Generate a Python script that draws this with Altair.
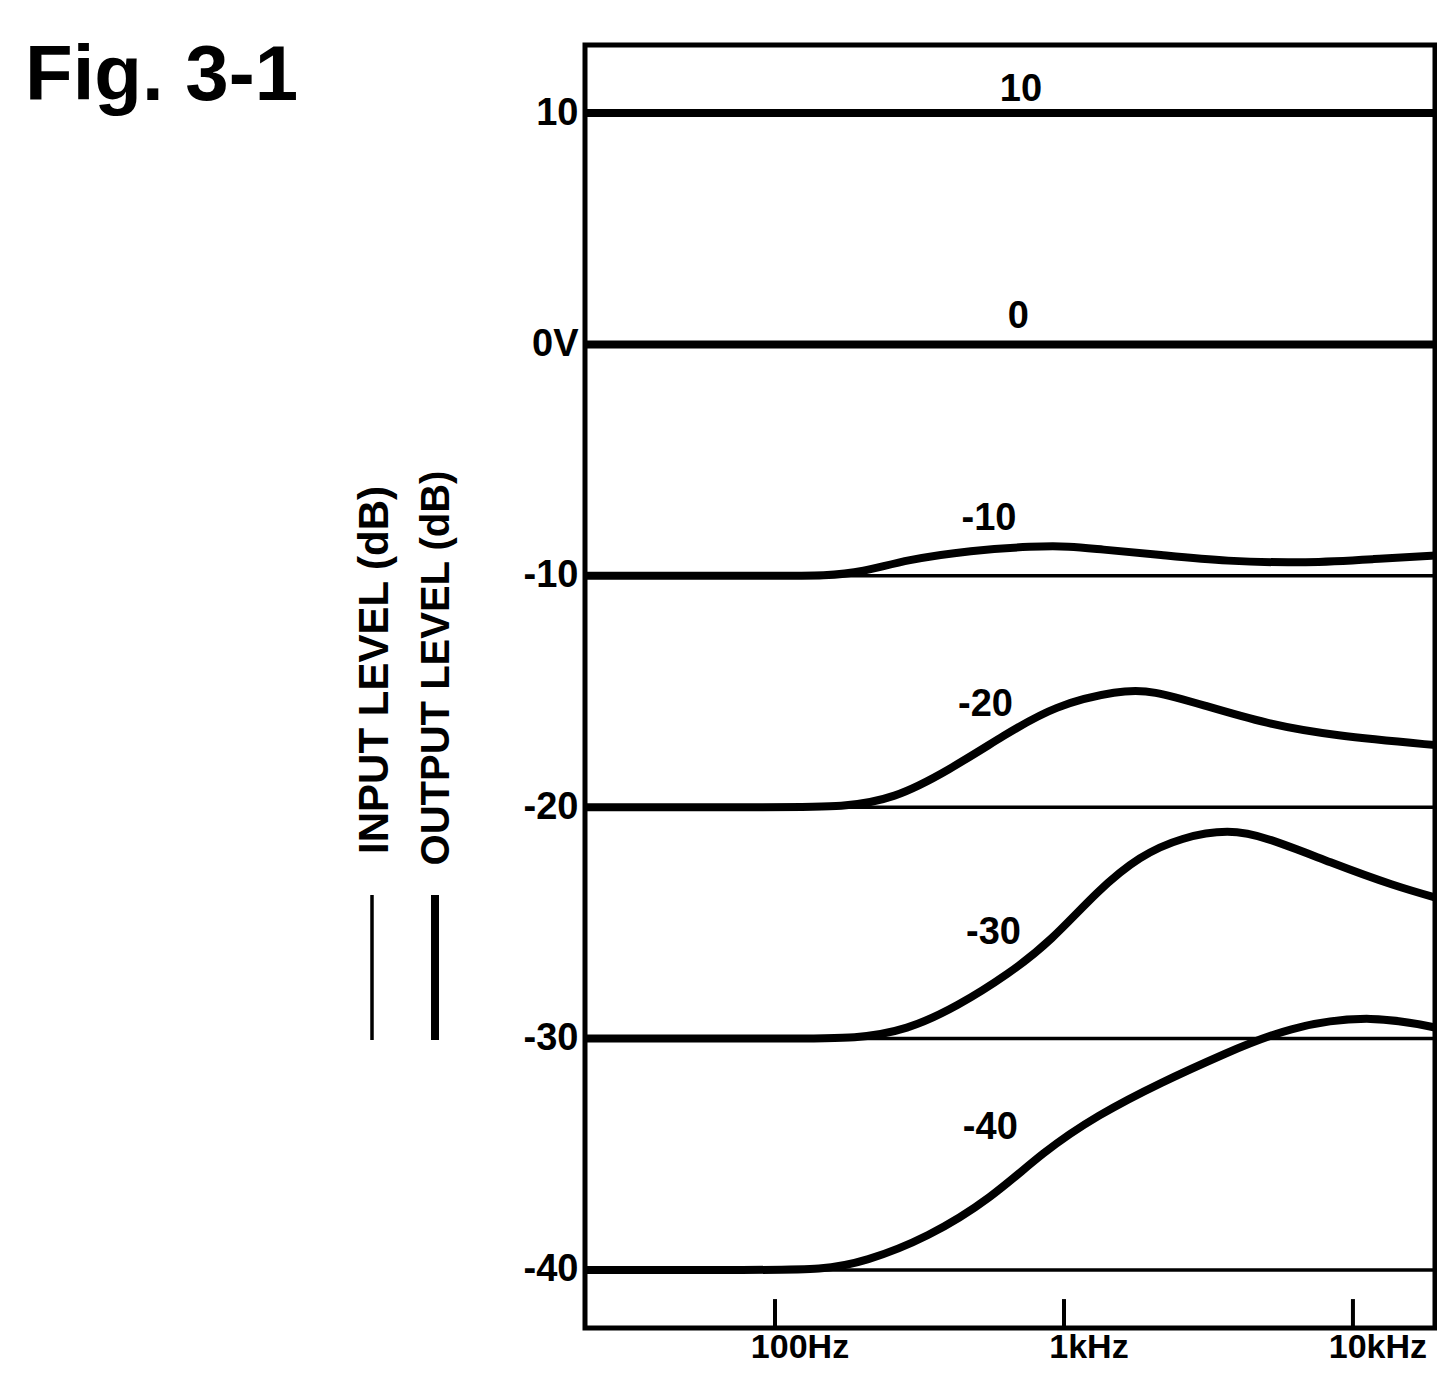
import altair as alt
import pandas as pd

# ---------------- data ----------------
F_MIN, F_MAX = 22, 19230
DB_MIN, DB_MAX = -42.51, 12.94

input_levels = [10, 0, -10, -20, -30, -40]
input_end_freq = 20500

out_p10_freq = [22, 20500]
out_p10_db = [10, 10]

out_0_freq = [22, 20500]
out_0_db = [0, 0]

out_m10_freq = [22, 100, 150, 200, 286, 476, 787, 1050, 1309, 2163, 3603, 7037, 11720, 20500]
out_m10_db = [-10, -10, -10, -9.85, -9.3, -8.9, -8.72, -8.72, -8.85, -9.1, -9.38, -9.45, -9.28, -9.1]

out_m20_freq = [22, 110, 170, 258, 400, 619, 929, 1549, 2029, 3048, 5035, 8378, 20500]
out_m20_db = [-20, -20, -20, -19.65, -18.4, -16.9, -15.6, -14.95, -14.95, -15.6, -16.4, -16.9, -17.35]

out_m30_freq = [22, 120, 190, 286, 429, 645, 900, 1309, 1829, 2558, 3718, 5035, 8378, 13840, 20500]
out_m30_db = [-30, -30, -30, -29.64, -28.6, -27.2, -25.8, -23.6, -22.1, -21.3, -20.95, -21.3, -22.4, -23.4, -24.0]

out_m40_freq = [22, 90, 145, 205, 338, 562, 845, 1309, 2163, 3603, 5953, 11720, 20500]
out_m40_db = [-40, -40, -40, -39.65, -38.6, -36.9, -34.9, -33.3, -31.9, -30.65, -29.5, -28.95, -29.6]

curve_labels = ["10", "0", "-10", "-20", "-30", "-40"]
curve_label_freq = [710, 695, 550, 535, 570, 556]
curve_label_db = [10.99, 1.17, -7.54, -15.6, -25.46, -33.86]

tick_freqs = [100, 1000, 10000]
tick_labels = ["100Hz", "1kHz", "10kHz"]
y_tick_values = [10, 0, -10, -20, -30, -40]

# ---------------- tables ----------------
inp_rows = []
for lv in input_levels:
    inp_rows.append({"series": str(lv), "freq": F_MIN, "db": lv})
    inp_rows.append({"series": str(lv), "freq": input_end_freq, "db": lv})
inp_df = pd.DataFrame(inp_rows)

out_rows = []
for name, fs, ds in [
    ("10", out_p10_freq, out_p10_db),
    ("0", out_0_freq, out_0_db),
    ("-10", out_m10_freq, out_m10_db),
    ("-20", out_m20_freq, out_m20_db),
    ("-30", out_m30_freq, out_m30_db),
    ("-40", out_m40_freq, out_m40_db),
]:
    for f, d in zip(fs, ds):
        out_rows.append({"series": name, "freq": f, "db": d})
out_df = pd.DataFrame(out_rows)

lab_df = pd.DataFrame({"label": curve_labels, "freq": curve_label_freq, "db": curve_label_db})
tick_df = pd.DataFrame({"freq": tick_freqs, "label": tick_labels,
                        "y0": [DB_MIN] * 3, "y1": [DB_MIN + 1.25] * 3})

xscale = alt.Scale(type="log", domain=[F_MIN, F_MAX], nice=False)
yscale = alt.Scale(domain=[DB_MIN, DB_MAX], nice=False, zero=False)

x_enc = alt.X(
    "freq:Q", scale=xscale, title=None,
    axis=alt.Axis(values=tick_freqs, labels=False, ticks=False, domain=False, grid=False),
)
y_enc = alt.Y(
    "db:Q", scale=yscale, title=None,
    axis=alt.Axis(values=y_tick_values,
                  labelExpr="datum.value == 0 ? '0V' : toString(datum.value)",
                  ticks=False, domain=False, grid=False, labelFontSize=38,
                  labelFont="Liberation Sans", labelFontWeight="bold",
                  labelColor="black", labelPadding=7),
)

inp = alt.Chart(inp_df).mark_line(color="black", strokeWidth=3.5, clip=True).encode(
    x=x_enc, y=y_enc, detail="series:N"
)

out = alt.Chart(out_df).mark_line(
    color="black", strokeWidth=8, interpolate="basis", clip=True
).encode(
    x=alt.X("freq:Q", scale=xscale), y=alt.Y("db:Q", scale=yscale), detail="series:N"
)

labels = alt.Chart(lab_df).mark_text(
    font="Liberation Sans", fontWeight="bold", fontSize=38, color="black",
    align="center", baseline="middle"
).encode(x=alt.X("freq:Q", scale=xscale), y=alt.Y("db:Q", scale=yscale), text="label:N")

ticks = alt.Chart(tick_df).mark_rule(color="black", strokeWidth=4).encode(
    x=alt.X("freq:Q", scale=xscale), y=alt.Y("y0:Q", scale=yscale), y2="y1:Q"
)

xlabels = alt.Chart(tick_df).mark_text(
    font="Liberation Sans", fontWeight="bold", fontSize=34, color="black",
    align="center", baseline="top", dx=25
).encode(x=alt.X("freq:Q", scale=xscale), y=alt.value(1286), text="label:N")

one = pd.DataFrame({"k": [0]})

fig_title = alt.Chart(one).mark_text(
    font="Liberation Sans", fontWeight="bold", fontSize=78, color="black",
    align="left", baseline="alphabetic"
).encode(x=alt.value(-560), y=alt.value(55), text=alt.value("Fig. 3-1"))

leg_in_text = alt.Chart(one).mark_text(
    font="Liberation Sans", fontWeight="bold", fontSize=42, color="black",
    align="center", baseline="middle", angle=270
).encode(x=alt.value(-210), y=alt.value(625), text=alt.value("INPUT LEVEL (dB)"))

leg_out_text = alt.Chart(one).mark_text(
    font="Liberation Sans", fontWeight="bold", fontSize=40, color="black",
    align="center", baseline="middle", angle=270
).encode(x=alt.value(-148), y=alt.value(623), text=alt.value("OUTPUT LEVEL (dB)"))

leg_in_line = alt.Chart(one).mark_rule(color="black", strokeWidth=3.5).encode(
    x=alt.value(-213), y=alt.value(850), y2=alt.value(995)
)
leg_out_line = alt.Chart(one).mark_rule(color="black", strokeWidth=8).encode(
    x=alt.value(-150), y=alt.value(850), y2=alt.value(995)
)

chart = alt.layer(
    inp, out, labels, ticks, xlabels, fig_title, leg_in_text, leg_out_text,
    leg_in_line, leg_out_line
).properties(
    width=850, height=1283,
    autosize=alt.AutoSizeParams(type="none"),
    padding={"left": 577, "top": 37, "right": 2, "bottom": 40},
    background="white",
).configure_view(
    stroke="black", strokeWidth=5
)

chart.save("out.html", embed_options={"renderer": "svg", "actions": False})
